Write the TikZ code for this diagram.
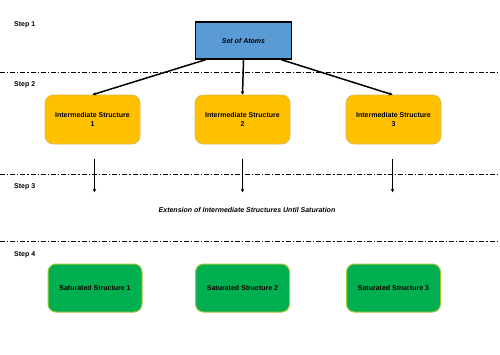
\documentclass[tikz,border=0pt]{standalone}
\usepackage{fontspec}
\setmainfont{Liberation Sans}
\usetikzlibrary{arrows.meta,calc}
\definecolor{atomblue}{HTML}{5B9BD5}
\definecolor{interyellow}{HTML}{FFC000}
\definecolor{interborder}{HTML}{D6B656}
\definecolor{satgreen}{HTML}{00B050}
\definecolor{satborder}{HTML}{A8C43A}
\tikzset{
  steplabel/.style={anchor=west, font=\fontsize{7}{8}\selectfont\bfseries, inner sep=0pt},
  atombox/.style={draw=black, line width=1.5pt, fill=atomblue, minimum width=96pt, minimum height=37pt, font=\fontsize{7}{8}\selectfont\bfseries\itshape, inner sep=0pt},
  interbox/.style={draw=interborder, line width=0.6pt, fill=interyellow, rounded corners=8pt, minimum width=95pt, minimum height=49pt, align=center, font=\fontsize{7}{9}\selectfont\bfseries, inner sep=0pt},
  satbox/.style={draw=satborder, line width=1pt, fill=satgreen, rounded corners=8pt, minimum width=94pt, minimum height=48pt, font=\fontsize{7}{8}\selectfont\bfseries, inner sep=0pt},
  sepline/.style={line width=0.9pt, dash pattern=on 5pt off 2pt on 1.2pt off 2pt},
  flow/.style={line width=1.5pt, -{Stealth[length=3.5pt,width=3.5pt]}},
}
\begin{document}
\begin{tikzpicture}[x=1pt,y=-1pt]
\useasboundingbox (0,0) rectangle (500,354);
% separators
\coordinate (s1l) at (0,72); \coordinate (s1r) at (500,72);
\coordinate (s2l) at (0,174); \coordinate (s2r) at (500,174);
\coordinate (s3l) at (0,241); \coordinate (s3r) at (500,241);
\draw[sepline] (s1l) -- (s1r);
\draw[sepline] (s2l) -- (s2r);
\draw[sepline] (s3l) -- (s3r);
% step labels
\node[steplabel] (st1) at (14,25) {Step 1};
\node[steplabel] (st2) at (14,85) {Step 2};
\node[steplabel] (st3) at (14,187) {Step 3};
\node[steplabel] (st4) at (14,255) {Step 4};
% boxes
\node[atombox] (atoms) at (243.5,40.5) {Set of Atoms};
\node[interbox] (i1) at (92.5,119.5) {Intermediate Structure\\1};
\node[interbox] (i2) at (242.5,119.5) {Intermediate Structure\\2};
\node[interbox] (i3) at (393.5,119.5) {Intermediate Structure\\3};
\node[satbox] (g1) at (95,288) {Saturated Structure 1};
\node[satbox] (g2) at (242.5,288) {Saturated Structure 2};
\node[satbox] (g3) at (393.5,288) {Saturated Structure 3};
\node[font=\fontsize{7}{8}\selectfont\bfseries\itshape, inner sep=0pt] (ext) at (247,210) {Extension of Intermediate Structures Until Saturation};
% connectors
\draw[flow] ([xshift=-38pt]atoms.south) -- (i1.north);
\draw[flow] (atoms.south) -- (i2.north);
\draw[flow] ([xshift=38pt]atoms.south) -- ([xshift=-1pt]i3.north);
\draw[flow] ([xshift=2pt,yshift=-15pt]i1.south) -- ++(0,33);
\draw[flow] ([yshift=-15pt]i2.south) -- ++(0,33);
\draw[flow] ([xshift=-1pt,yshift=-15pt]i3.south) -- ++(0,33);
\end{tikzpicture}
\end{document}
